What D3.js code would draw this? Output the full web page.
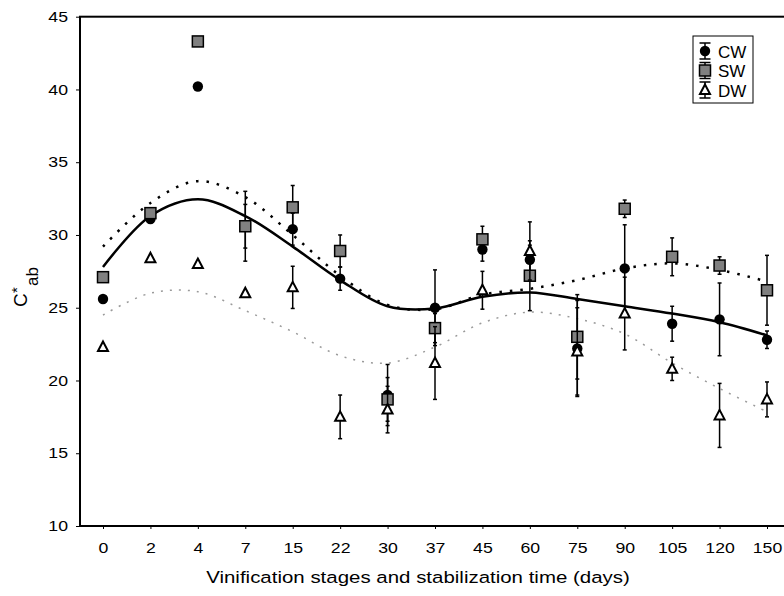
<!DOCTYPE html>
<html>
<head>
<meta charset="utf-8">
<script src="https://cdn.jsdelivr.net/npm/d3@7"></script>
<style>
  html, body { margin: 0; padding: 0; background: #fff; }
  svg { display: block; font-family: Arial, "Liberation Sans", sans-serif; }
</style>
</head>
<body>
<svg id="chart" width="784" height="596"></svg>
<script>
const days = ["0","2","4","7","15","22","30","37","45","60","75","90","105","120","150"];
const yTicks = [10, 15, 20, 25, 30, 35, 40, 45];
const seriesNames = ["CW", "SW", "DW"];

const cwValues = [25.6,31.1,40.2,30.6,30.4,27.0,19.0,25.0,29.0,28.3,22.2,27.7,23.9,24.2,22.8];
const cwErrors = [0,0,0,1.5,1.1,0.8,2.1,2.6,0.8,1.0,3.3,3.0,1.2,2.5,0.6];
const swValues = [27.1,31.5,43.3,30.6,31.9,28.9,18.7,23.6,29.7,27.2,23.0,31.8,28.5,27.9,26.2];
const swErrors = [0,0,0,2.4,1.5,1.1,1.5,1.0,0.9,2.4,2.9,0.6,1.3,0.6,2.4];
const dwValues = [22.3,28.4,28.0,26.0,26.4,17.5,18.0,21.2,26.2,28.9,22.0,24.6,20.8,17.6,18.7];
const dwErrors = [0,0,0,0,1.45,1.5,1.6,2.5,1.3,2.0,3.0,2.5,0.8,2.2,1.2];

const cwFit = [27.8,31.3,32.45,31.3,29.2,26.9,25.1,24.95,25.75,26.05,25.6,25.1,24.6,24.0,23.1];
const swFit = [29.2,32.2,33.7,32.6,30.0,27.2,25.2,24.9,25.9,26.3,26.9,27.7,28.05,27.6,26.8];
const dwFit = [24.5,26.0,26.1,24.8,23.35,21.7,21.2,22.3,23.96,24.7,24.25,23.2,21.2,19.45,17.85];

const svg = d3.select("#chart");
const plotLeft = 80, plotTop = 16.7, plotBottom = 526, plotRight = 792;
const stretch = 1.22;

const x = d3.scalePoint().domain(days).range([103, 767]);
const y = d3.scaleLinear().domain([10, 45]).range([plotBottom, plotTop]);

// frame (right side off-canvas)
svg.append("rect")
  .attr("x", plotLeft).attr("y", plotTop)
  .attr("width", plotRight - plotLeft).attr("height", plotBottom - plotTop)
  .attr("fill", "none").attr("stroke", "#000").attr("stroke-width", 2);

// y axis
const yAxis = svg.append("g").attr("transform", `translate(${plotLeft},0)`)
  .call(d3.axisLeft(y).tickValues(yTicks).tickSize(4).tickPadding(8).tickFormat(d3.format("d")));
yAxis.select(".domain").remove();
yAxis.selectAll("line").attr("stroke", "#000").attr("stroke-width", 1);
yAxis.selectAll("text").attr("font-size", 14.5).attr("fill", "#000")
  .attr("font-family", "Arial, 'Liberation Sans', sans-serif")
  .attr("x", -12 / stretch)
  .attr("transform", `scale(${stretch},1)`);

// x axis
const xAxis = svg.append("g").attr("transform", `translate(0,${plotBottom})`)
  .call(d3.axisBottom(x).tickSize(3).tickPadding(14));
xAxis.select(".domain").remove();
xAxis.selectAll("line").attr("stroke", "#000").attr("stroke-width", 1).attr("y1", 1);
xAxis.selectAll("text").attr("font-size", 14.5).attr("fill", "#000")
  .attr("font-family", "Arial, 'Liberation Sans', sans-serif")
  .attr("transform", `scale(${stretch},1)`);

// axis titles
svg.append("text")
  .attr("transform", "translate(418,583) scale(1.24,1)")
  .attr("text-anchor", "middle")
  .attr("font-size", 16.5)
  .text("Vinification stages and stabilization time (days)");

// y title: C*ab, rotated, pieces placed explicitly
const ylab = svg.append("g").attr("font-family", "Arial, 'Liberation Sans', sans-serif");
ylab.append("text").attr("transform", "translate(27,307) rotate(-90)")
  .attr("font-size", 19).text("C");
ylab.append("text").attr("transform", "translate(22,293) rotate(-90)")
  .attr("font-size", 15).text("*");
ylab.append("text").attr("transform", "translate(38,286) rotate(-90)")
  .attr("font-size", 17).text("ab");

// fitted curves
const line = d3.line()
  .x((d, i) => x(days[i]))
  .y(d => y(d))
  .curve(d3.curveCatmullRom.alpha(0.5));

svg.append("path").datum(dwFit).attr("d", line)
  .attr("fill", "none").attr("stroke", "#9a9a9a").attr("stroke-width", 1.5)
  .attr("stroke-dasharray", "2,7");
svg.append("path").datum(swFit).attr("d", line)
  .attr("fill", "none").attr("stroke", "#000").attr("stroke-width", 2.5)
  .attr("stroke-dasharray", "2.5,8");
svg.append("path").datum(cwFit).attr("d", line)
  .attr("fill", "none").attr("stroke", "#000").attr("stroke-width", 2.5);

// series with error bars and markers
const series = [
  { name: seriesNames[0], values: cwValues, errors: cwErrors, shape: "circle" },
  { name: seriesNames[1], values: swValues, errors: swErrors, shape: "square" },
  { name: seriesNames[2], values: dwValues, errors: dwErrors, shape: "triangle" }
];

function drawMarker(g, shape, cx, cy) {
  if (shape === "circle") {
    g.append("circle").attr("cx", cx).attr("cy", cy).attr("r", 5.2).attr("fill", "#000");
  } else if (shape === "square") {
    g.append("rect").attr("x", cx - 5.5).attr("y", cy - 5.5).attr("width", 11).attr("height", 11)
      .attr("fill", "#808080").attr("stroke", "#000").attr("stroke-width", 1.5);
  } else {
    g.append("path")
      .attr("d", `M${cx},${cy - 5.5}L${cx + 5},${cy + 4}L${cx - 5},${cy + 4}Z`)
      .attr("fill", "#fff").attr("stroke", "#000").attr("stroke-width", 2).attr("stroke-linejoin", "miter");
  }
}

function drawErr(g, cx, y1, y2, capHalf) {
  g.append("line").attr("x1", cx).attr("x2", cx).attr("y1", y1).attr("y2", y2)
    .attr("stroke", "#000").attr("stroke-width", 1.5);
  [y1, y2].forEach(yy => g.append("line").attr("x1", cx - capHalf).attr("x2", cx + capHalf)
    .attr("y1", yy).attr("y2", yy).attr("stroke", "#000").attr("stroke-width", 1.5));
}

series.forEach(s => {
  const g = svg.append("g");
  s.values.forEach((v, i) => {
    const e = s.errors[i];
    if (e > 0) drawErr(g, x(days[i]), y(v + e), y(v - e), 2);
  });
  s.values.forEach((v, i) => drawMarker(g, s.shape, x(days[i]), y(v)));
});

// legend
const lg = svg.append("g");
lg.append("rect").attr("x", 693).attr("y", 36).attr("width", 60).attr("height", 67)
  .attr("fill", "#fff").attr("stroke", "#000").attr("stroke-width", 1);
series.forEach((s, i) => {
  const cy = 51 + i * 19.5;
  const cx = 705;
  drawErr(lg, cx, cy - 8, cy + 8, 5.5);
  drawMarker(lg, s.shape, cx, cy);
  lg.append("text").attr("x", 718).attr("y", cy + 6.5).attr("font-size", 17).text(s.name);
});
</script>
</body>
</html>
